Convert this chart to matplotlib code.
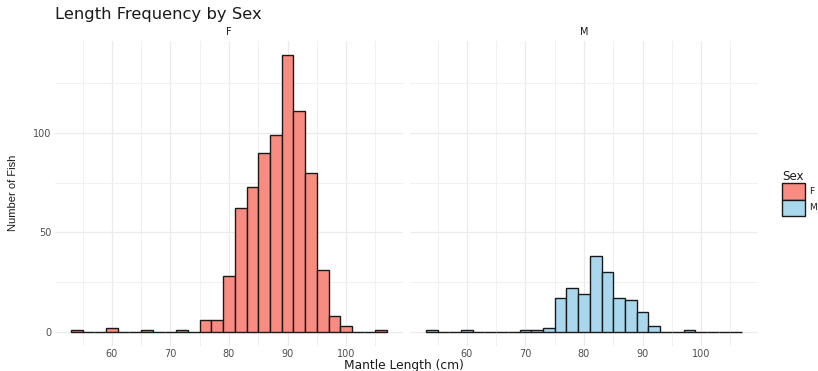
import matplotlib
matplotlib.use("Agg")
import matplotlib.pyplot as plt
import matplotlib.patches as mpatches
from matplotlib.ticker import MultipleLocator

# ---- data ----
bin_centers = [54, 56, 58, 60, 62, 64, 66, 68, 70, 72, 74, 76, 78, 80, 82, 84,
               86, 88, 90, 92, 94, 96, 98, 100, 102, 104, 106]
f_counts = [1, 0, 0, 2, 0, 0, 1, 0, 0, 1, 0, 6, 6, 28, 62, 73,
            90, 99, 139, 111, 80, 31, 8, 3, 0, 0, 1]
m_counts = [1, 0, 0, 1, 0, 0, 0, 0, 1, 1, 2, 17, 22, 19, 38, 30,
            17, 16, 10, 3, 0, 0, 1, 0, 0, 0, 0]
panels = ["F", "M"]
series = {"F": f_counts, "M": m_counts}
x_ticks = [60, 70, 80, 90, 100]
y_ticks = [0, 50, 100]
title = "Length Frequency by Sex"
xlabel = "Mantle Length (cm)"
ylabel = "Number of Fish"
legend_title = "Sex"

fills = {"F": "#F98C80", "M": "#A9D8EE"}
binwidth = 2

W, H = 818, 371
fig = plt.figure(figsize=(W / 100, H / 100), dpi=100)
fig.patch.set_facecolor("white")
plt.rcParams["font.family"] = ["DejaVu Sans"]

def fx(px):
    return px / W

def fy(py):
    return 1 - py / H

panel_left = [55, 410]
panel_w = 348
top_px, bot_px = 41, 346

lo = min(bin_centers) - binwidth / 2
hi = max(bin_centers) + binwidth / 2
xpad = (hi - lo) * 0.05
ymax = max(max(f_counts), max(m_counts))
ypad = ymax * 0.05

axes = []
for i, p in enumerate(panels):
    ax = fig.add_axes([fx(panel_left[i]), fy(bot_px), panel_w / W, (bot_px - top_px) / H])
    ax.set_facecolor("white")
    ax.set_xlim(lo - xpad, hi + xpad)
    ax.set_ylim(-ypad, ymax + ypad)
    ax.xaxis.set_minor_locator(MultipleLocator(5))
    ax.yaxis.set_minor_locator(MultipleLocator(25))
    ax.set_xticks(x_ticks)
    ax.set_yticks(y_ticks)
    ax.grid(which="major", color="#EBEBEB", linewidth=0.9)
    ax.grid(which="minor", color="#F0F0F0", linewidth=0.7)
    ax.set_axisbelow(True)
    for s in ax.spines.values():
        s.set_visible(False)
    ax.tick_params(which="both", length=0, labelsize=7, labelcolor="#4D4D4D", pad=2.5)
    if i > 0:
        ax.tick_params(axis="y", labelleft=False)
    ax.bar(bin_centers, series[p], width=binwidth, color=fills[p],
           edgecolor="#1a1a1a", linewidth=1.0, zorder=3)
    ax.text(0.5, 1.012, p, transform=ax.transAxes, ha="center", va="bottom",
            fontsize=7, color="#1A1A1A")
    axes.append(ax)

fig.text(fx(55), fy(15), title, ha="left", va="center", fontsize=11.8, color="#1A1A1A")
fig.text(fx(404), fy(365), xlabel, ha="center", va="center", fontsize=8.8, color="#1A1A1A")
fig.text(fx(13), fy(193), ylabel, ha="center", va="center", rotation=90,
         fontsize=8, color="#1A1A1A", family=["Liberation Sans Narrow", "Liberation Sans", "DejaVu Sans"])

# legend
fig.text(fx(782), fy(176), legend_title, ha="left", va="center", fontsize=8.6, color="#1A1A1A")
key_y = [183, 199.5]
for k, p in enumerate(panels):
    rect = mpatches.Rectangle((fx(782), fy(key_y[k] + 16.5)), 23 / W, 16.5 / H,
                              transform=fig.transFigure, facecolor=fills[p],
                              edgecolor="#1a1a1a", linewidth=1.0)
    fig.patches.append(rect)
    fig.text(fx(809), fy(key_y[k] + 8.3), p, ha="left", va="center", fontsize=6.5, color="#1A1A1A")

fig.savefig("out.png", dpi=100)
